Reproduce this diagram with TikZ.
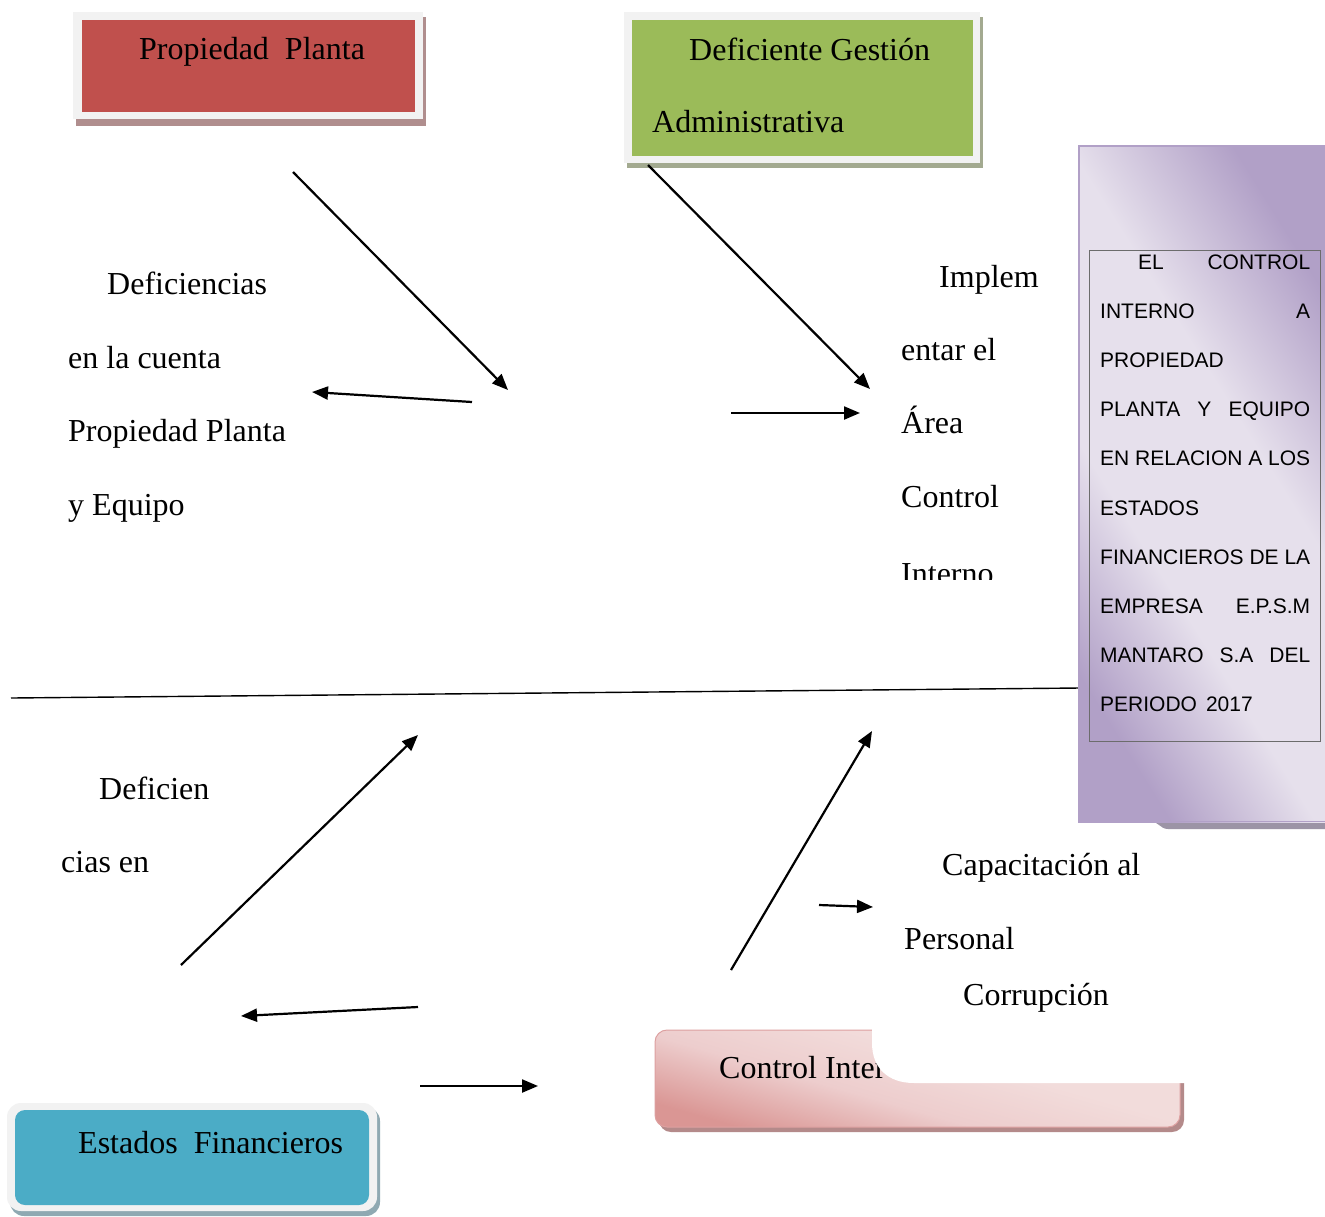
\documentclass[tikz,border=0pt]{standalone}
\usepackage{fontspec}
\setmainfont{Liberation Serif}
\newfontfamily\sansf{Liberation Sans}
\usetikzlibrary{arrows.meta}
\definecolor{redfill}{HTML}{C0504D}
\definecolor{redshadow}{HTML}{B08E8E}
\definecolor{greenfill}{HTML}{9BBB59}
\definecolor{greenshadow}{HTML}{A3AA90}
\definecolor{framegray}{HTML}{F2F2F2}
\definecolor{bluefill}{HTML}{4BACC6}
\definecolor{blueshadow}{HTML}{8FA9B2}
\definecolor{purpledark}{HTML}{B1A0C7}
\definecolor{purplelight}{HTML}{E6E0EC}
\definecolor{purpleshadow}{HTML}{9C94A6}
\definecolor{pinklight}{HTML}{F2DCDB}
\definecolor{pinkmid}{HTML}{EDCDCD}
\definecolor{pinkdark}{HTML}{DA9694}
\definecolor{pinkborder}{HTML}{DDA0A0}
\definecolor{pinkshadow}{HTML}{B48A8A}
\pgfdeclareverticalshading{purpshade}{100bp}{color(0bp)=(purpledark); color(25bp)=(purpledark); color(40bp)=(purplelight); color(58bp)=(purplelight); color(75bp)=(purpledark); color(100bp)=(purpledark)}
\pgfdeclareverticalshading{pinkshade}{100bp}{color(0bp)=(pinkdark); color(25bp)=(pinkdark); color(42bp)=(pinkmid); color(58bp)=(pinklight); color(75bp)=(pinklight); color(100bp)=(pinklight)}
\begin{document}
\begin{tikzpicture}[x=1pt,y=-1pt,
  txt/.style={anchor=base west, inner sep=0pt, font=\fontsize{32}{38}\selectfont},
  stxt/.style={anchor=base west, inner sep=0pt, font=\sansf\fontsize{21}{25}\selectfont},
  arr/.style={line width=2.2pt, -{Triangle[length=16pt,width=13pt]}}]
\useasboundingbox (0,0) rectangle (1325,1216);
\fill[white] (0,0) rectangle (1325,1216);

% ---- Propiedad Planta box
\fill[redshadow] (76,17) rectangle (426,126);
\fill[framegray] (73,12) rectangle (423,119);
\fill[redfill] (82,20) rectangle (415,112);
\node[txt] (pp) at (139,59) {Propiedad\ \ Planta};

% ---- Deficiente Gestion box
\fill[greenshadow] (627,17) rectangle (983,168);
\fill[framegray] (624,12) rectangle (980,163);
\fill[greenfill] (632,20) rectangle (973,156);
\node[txt] (dg1) at (689,60) {Deficiente Gestión};
\node[txt] (dg2) at (652,132) {Administrativa};

% ---- spine
\coordinate (sp1) at (11,698);
\coordinate (sp2) at (1080,688);
\draw[line width=1.4pt] (sp1) -- (sp2);

% ---- arrows
\coordinate (a1s) at (293,172); \coordinate (a1e) at (508,390);
\coordinate (a2s) at (472,402); \coordinate (a2e) at (312,392);
\coordinate (a3s) at (648,165); \coordinate (a3e) at (870,389);
\coordinate (a4s) at (731,413); \coordinate (a4e) at (860,413);
\coordinate (a5s) at (181,965); \coordinate (a5e) at (418,735);
\coordinate (a6s) at (418,1007); \coordinate (a6e) at (241,1016);
\coordinate (a7s) at (731,970); \coordinate (a7e) at (872,731);
\coordinate (a8s) at (819,905); \coordinate (a8e) at (873,907);
\coordinate (a9s) at (420,1086); \coordinate (a9e) at (538,1086);
\foreach \i in {1,...,9} {\draw[arr] (a\i s) -- (a\i e);}

% ---- left texts
\node[txt] (t1) at (107,294) {Deficiencias};
\node[txt] (t2) at (68,368) {en la cuenta};
\node[txt] (t3) at (68,441) {Propiedad Planta};
\node[txt] (t4) at (68,515) {y Equipo};

% ---- middle texts
\node[txt] (m1) at (939,287) {Implem};
\node[txt] (m2) at (901,360) {entar el};
\node[txt] (m3) at (901,433) {Área};
\node[txt] (m4) at (901,507) {Control};
\begin{scope}
\clip (880,540) rectangle (1070,579);
\node[txt] (m5) at (901,584) {Interno};
\end{scope}

\node[txt] (b1) at (99,799) {Deficien};
\node[txt] (b2) at (61,872) {cias en};

\node[txt] (c1) at (942,875) {Capacitación al};
\node[txt] (c2) at (904,949) {Personal};
\node[txt] (c3) at (963,1005) {Corrupción};

% ---- purple box
\fill[purpleshadow] (1150,821) .. controls (1158,821) and (1160,829) .. (1168,829) -- (1325,829) -- (1325,821) -- cycle;
\shade[shading=purpshade, shading angle=-58] (1078,145) rectangle (1325,822);
\draw[purpledark, line width=1.6pt] (1078.8,822) -- (1078.8,145.8) -- (1325,145.8);
\draw[purpledark, line width=1.2pt] (1078,821.5) -- (1325,821.5);
\draw[gray!85!black, line width=0.8pt] (1089,250) rectangle (1320,741);
\node[stxt] (p1) at (1138,269) {\makebox[172pt][s]{EL CONTROL}};
\node[stxt] (p2) at (1100,318.2) {\makebox[210pt][s]{INTERNO A}};
\node[stxt] (p3) at (1100,367.4) {PROPIEDAD};
\node[stxt] (p4) at (1100,416.6) {\makebox[210pt][s]{PLANTA Y EQUIPO}};
\node[stxt] (p5) at (1100,465.8) {\makebox[210pt][s]{EN RELACION A LOS}};
\node[stxt] (p6) at (1100,515) {ESTADOS};
\node[stxt] (p7) at (1100,564.2) {\makebox[210pt][s]{FINANCIEROS DE LA}};
\node[stxt] (p8) at (1100,613.4) {\makebox[210pt][s]{EMPRESA E.P.S.M}};
\node[stxt] (p9) at (1100,662.6) {\makebox[210pt][s]{MANTARO S.A DEL}};
\node[stxt] (p10) at (1100,711.8) {PERIODO\hspace{9pt}2017};

% ---- Control Interno box
\fill[pinkshadow, rounded corners=12pt] (659,1034) rectangle (1184,1132);
\shade[rounded corners=12pt, shading=pinkshade, shading angle=-16]
  (655,1030) rectangle (1180,1127);
\draw[pinkborder, line width=1pt, rounded corners=12pt] (655,1030) rectangle (1180,1127);
\node[txt] (ci) at (719,1078) {Control Inter};
\fill[white] (1190,1020) -- (872,1020) -- (872,1043) .. controls (872,1068) and (888,1083) .. (914,1083) -- (1190,1083) -- cycle;

% ---- Estados Financieros box
\fill[blueshadow, rounded corners=14pt] (10,1107) rectangle (380,1216);
\fill[framegray, rounded corners=14pt] (7,1103) rectangle (377,1211);
\fill[bluefill, rounded corners=10pt] (15,1110) rectangle (369,1205);
\node[txt] (ef) at (78,1153) {Estados\ \ Financieros};
\end{tikzpicture}
\end{document}
